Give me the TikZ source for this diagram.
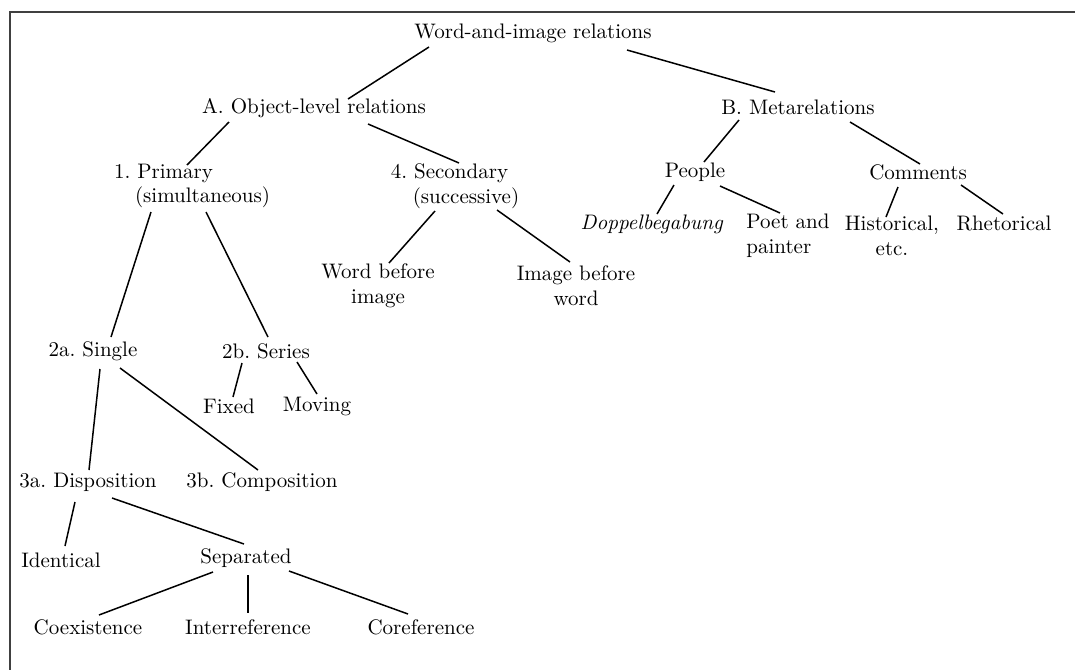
\documentclass[tikz,border=0pt]{standalone}
\usepackage{tikz}
\usetikzlibrary{calc}
\frenchspacing

\begin{document}
\begin{tikzpicture}[x=0.5pt,y=-0.5pt,
  lbl/.style={font=\fontsize{10.5}{12.3}\selectfont,inner sep=0pt},
  link/.style={line width=0.75pt}]
 \useasboundingbox (0,0) rectangle (1077,670);
 % frame
 \draw[line width=1pt,black!75](9,12)--(1075,12);
 \draw[line width=1pt,black!75](10,12)--(10,670);
 % top
 \node[lbl] (root) at (533,33){Word-and-image relations};
 \node[lbl] (objrel) at (314,108){A. Object-level relations};
 \node[lbl] (metarel) at (798,107){B. Metarelations};
 % A. object level
 \node[lbl,align=left] (primary) at (192,186){1. Primary\\\hspace*{10.5pt}(simultaneous)};
 \node[lbl,align=left] (secondary) at (455,186){4. Secondary\\\hspace*{11pt}(successive)};
 \node[lbl,align=center] (wordimg) at (378,286){Word before\\image};
 \node[lbl,align=center] (imgword) at (576,286){Image before\\word};
 \node[lbl] (single) at (93,351){2a. Single};
 \node[lbl] (series) at (266,351){2b. Series};
 \node[lbl] (fixed) at (229,406){Fixed};
 \node[lbl] (moving) at (317,406){Moving};
 \node[lbl] (dispos) at (88,482){3a. Disposition};
 \node[lbl] (compos) at (262,482){3b. Composition};
 \node[lbl] (ident) at (61,560){Identical};
 \node[lbl] (separ) at (246,558){Separated};
 \node[lbl] (coex) at (88,627){Coexistence};
 \node[lbl] (interref) at (248,627){Interreference};
 \node[lbl] (coref) at (421,627){Coreference};
 % B. metarelations
 \node[lbl] (people) at (695,172){People};
 \node[lbl] (comments) at (918,172){Comments};
 \node[lbl] (doppel) at (652,224){\textit{Doppelbegabung}};
 \node[lbl,align=left] (poet) at (788,236){Poet and\\painter};
 \node[lbl,align=center] (histor) at (892,236){Historical,\\etc.};
 \node[lbl] (rhetor) at (1004,223){Rhetorical};
 % links
 \foreach \a/\ax/\ay/\b/\bx/\by in {root/-104/14/objrel/34/-9, root/94/17/metarel/-23/-15,
   objrel/-85/14/primary/-5/-21, objrel/54/16/secondary/4/-23,
   primary/-41/26/single/18/-14, primary/14/26/series/2/-14,
   secondary/-20/25/wordimg/11/-23, secondary/42/24/imgword/-6/-24,
   metarel/-59/13/people/9/-10, metarel/52/15/comments/2/-8,
   people/-21/13/doppel/5/-10, people/25/14/poet/-8/-23,
   comments/-20/15/histor/-6/-19, comments/43/13/rhetor/-1/-9,
   single/7/18/dispos/1/-12, single/27/17/compos/-4/-12,
   series/-24/12/fixed/4/-9, series/31/11/moving/0/-12,
   dispos/-13/20/ident/4/-14, dispos/24/16/separ/-2/-14,
   separ/-33/14/coex/11/-12, separ/2/17/interref/0/-14, separ/43/13/coref/-13/-13}
   \draw[link]($(\a)+(\ax,\ay)$)--($(\b)+(\bx,\by)$);
\end{tikzpicture}
\end{document}
